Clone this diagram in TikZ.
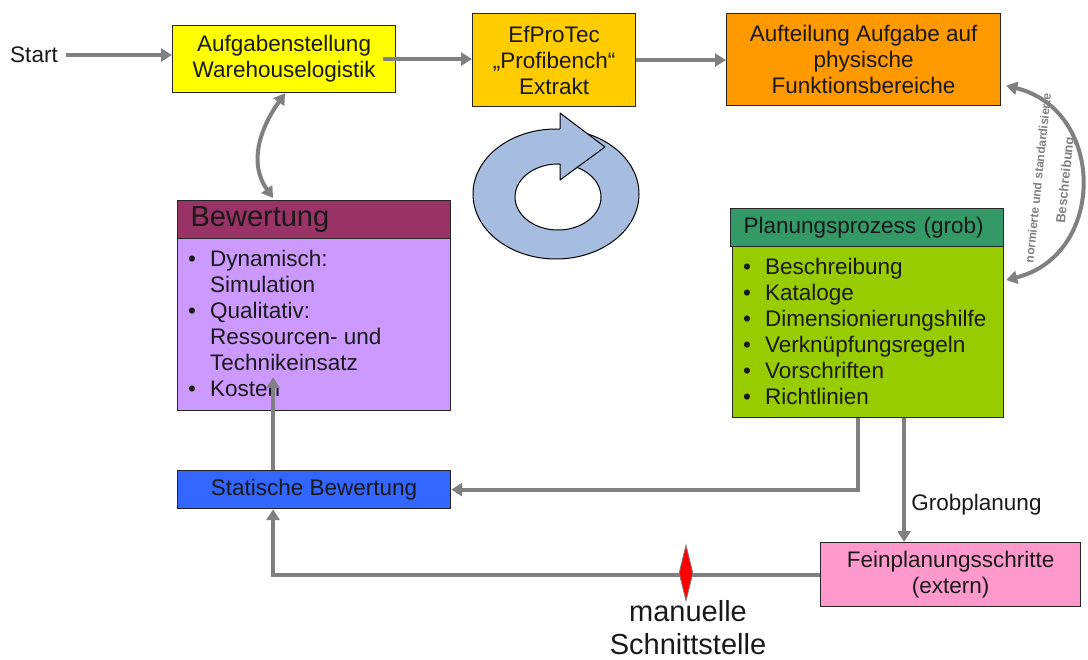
\documentclass[tikz,border=0pt]{standalone}
\usepackage{fontspec}
\setmainfont{Liberation Sans}
\usetikzlibrary{arrows.meta,shapes.geometric,calc}
\definecolor{cyellow}{RGB}{255,255,0}
\definecolor{cgold}{RGB}{255,204,0}
\definecolor{corange}{RGB}{255,153,0}
\definecolor{cmaroon}{RGB}{153,51,102}
\definecolor{clav}{RGB}{204,153,255}
\definecolor{cteal}{RGB}{51,153,102}
\definecolor{clime}{RGB}{153,204,0}
\definecolor{cblue}{RGB}{51,102,255}
\definecolor{cpink}{RGB}{255,153,204}
\definecolor{arrgray}{RGB}{128,128,128}
\definecolor{ringblue}{RGB}{167,189,224}
\newcommand\bi{\makebox[22pt][l]{\textbullet}}
\newcommand\bc{\hspace*{22pt}}
\tikzset{
 box/.style={draw=black!85, line width=1.2pt, inner sep=0pt, align=center, anchor=north west},
 hdr/.style={box, align=left, inner xsep=13pt},
 conn/.style={draw=arrgray, line width=4pt, -{Triangle[length=11pt,width=13pt]}},
 dconn/.style={draw=arrgray, line width=4pt, {Triangle[length=11pt,width=13pt]}-{Triangle[length=11pt,width=13pt]}},
 lst/.style={anchor=north west, align=left, inner sep=0pt},
 plain/.style={inner sep=0pt},
 arclbl/.style={inner sep=0pt, text=arrgray, font=\fontsize{13}{15}\selectfont\bfseries}
}
\begin{document}
\begin{tikzpicture}[x=1pt,y=-1pt,
  every node/.style={font=\fontsize{22.5}{26}\selectfont, text=black!90}]
\useasboundingbox (0,0) rectangle (1088,660);

% circular arrow
\filldraw[fill=ringblue, draw=black, line width=1pt, even odd rule]
  (556,194) ellipse [x radius=83pt, y radius=65pt]
  (558,197) ellipse [x radius=43pt, y radius=33pt];
\fill[ringblue] (560,129) -- (560,113) -- (605,147) -- (560,180) -- (560,164) -- cycle;
\draw[black, line width=1pt, line join=round] (560,129) -- (560,113) -- (605,147) -- (560,180) -- (560,164);

% nodes
\node[plain] (start) at (34,55) {Start};
\node[box, fill=cyellow, minimum width=223pt, minimum height=67pt] (auf) at (172,25) {Aufgabenstellung\\Warehouselogistik};
\node[box, fill=cgold, minimum width=163pt, minimum height=93pt] (ef) at (472,13) {EfProTec\\„Profibench“\\Extrakt};
\node[box, fill=corange, minimum width=274pt, minimum height=92pt] (auft) at (726,13) {Aufteilung Aufgabe auf\\physische\\Funktionsbereiche};

\node[hdr, fill=cmaroon, minimum width=273pt, minimum height=38pt, text width=247pt, font=\fontsize{29}{33}\selectfont] (bewh) at (177,200) {Bewertung};
\node[box, fill=clav, minimum width=273pt, minimum height=172pt] (bewb) at (177,238) {};
\node[lst] (bewt) at (188,250) {\bi Dynamisch:\\\bc Simulation\\\bi Qualitativ:\\\bc Ressourcen- und\\\bc Technikeinsatz\\\bi Kosten};

\node[hdr, fill=cteal, minimum width=273pt, minimum height=38pt, text width=247pt] (plh) at (730,208) {Planungsprozess (grob)};
\node[box, fill=clime, minimum width=271pt, minimum height=171pt] (plb) at (732,246) {};
\node[lst] (plt) at (743,258) {\bi Beschreibung\\\bi Kataloge\\\bi Dimensionierungshilfe\\\bi Verknüpfungsregeln\\\bi Vorschriften\\\bi Richtlinien};

\node[box, fill=cblue, minimum width=273pt, minimum height=38pt] (sta) at (177,470) {Statische Bewertung};
\node[box, fill=cpink, minimum width=260pt, minimum height=64pt] (fein) at (820,542) {Feinplanungsschritte\\(extern)};

% connectors
\draw[conn] ([xshift=8pt]start.east) -- (start.east -| auf.west);
\draw[conn] ([xshift=-13pt]auf.east) -- (auf.east -| ef.west);
\draw[conn] (ef.east) -- (ef.east -| auft.west);
\draw[dconn] ([xshift=1pt]auf.south) .. controls +(-25,35) and +(-25,-35) .. ([xshift=-41pt,yshift=2pt]bewh.north);
\draw[dconn] ([shift={(5pt,-26pt)}]auft.east) .. controls +(100,25) and +(100,-25) .. ([shift={(2pt,-34pt)}]plb.north east);
\node[arclbl, rotate=84, font=\fontsize{12}{14}\selectfont\bfseries] (nl1) at (1038,178) {normierte und standardisierte};
\node[arclbl, rotate=84] (nl2) at (1066,180) {Beschreibung};

\draw[conn] ([xshift=-10pt]plb.south) |- (sta.east);
\draw[conn] ([xshift=36pt]plb.south) -- ([xshift=36pt]plb.south |- fein.north)
  node[pos=0.7, anchor=west, xshift=2pt] (grob) {Grobplanung};
\draw[conn] (fein.west) -| ([xshift=-41pt]sta.south);
\draw[conn] ([xshift=-41pt]sta.north) -- ([shift={(-41pt,34pt)}]bewb.south);

\node[diamond, fill=red, draw=arrgray, line width=0.8pt, minimum width=14pt, minimum height=56pt, inner sep=0pt, aspect=0.25] (iface) at (686,573) {};
\node[plain, align=center, font=\fontsize{29}{33}\selectfont] (ms) at (688,628) {manuelle\\Schnittstelle};
\end{tikzpicture}
\end{document}
